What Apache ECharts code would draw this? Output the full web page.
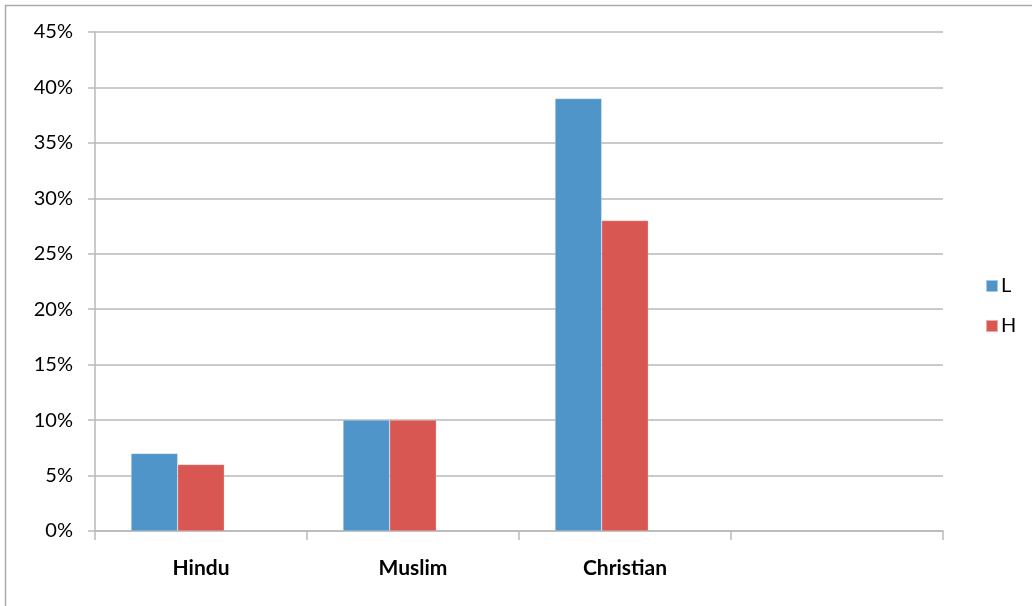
<!DOCTYPE html>
<html>
<head>
<meta charset="utf-8">
<style>
  html, body { margin: 0; padding: 0; background: #fff; }
  #chart { width: 1032px; height: 606px; }
</style>
<script src="https://cdn.jsdelivr.net/npm/echarts@6/dist/echarts.min.js"></script>
</head>
<body>
<div id="chart"></div>
<script>
// Share of each group, by level (percent)
const categories = ['Hindu', 'Muslim', 'Christian', ''];
const seriesL = [7, 10, 39, null];
const seriesH = [6, 10, 28, null];
const seriesBlank = [null, null, null, null];
const yTicks = [0, 5, 10, 15, 20, 25, 30, 35, 40, 45];

const gridColor = '#b9b9b9';
const labelFont = 'Lato, "Liberation Sans", sans-serif';

const chart = echarts.init(document.getElementById('chart'), null, { renderer: 'canvas' });

chart.setOption({
  animation: false,
  backgroundColor: '#ffffff',
  graphic: [{
    type: 'rect',
    shape: { x: 5.5, y: 5.5, width: 1100, height: 700 },
    style: { fill: 'none', stroke: '#aaaaaa', lineWidth: 1.5 },
    silent: true
  }],
  legend: {
    orient: 'vertical',
    left: 980,
    top: 271,
    itemWidth: 12,
    itemHeight: 12,
    itemGap: 20,
    icon: 'rect',
    data: ['L', 'H'],
    textStyle: { fontFamily: labelFont, fontSize: 20, color: '#000', padding: [0, 0, 0, -2] }
  },
  grid: { left: 95, right: 89, top: 32, bottom: 75, containLabel: false },
  xAxis: {
    type: 'category',
    data: categories,
    axisLine: { lineStyle: { color: gridColor, width: 1.5 } },
    axisTick: { show: true, length: 9, alignWithLabel: false, lineStyle: { color: gridColor, width: 1.5 } },
    axisLabel: { margin: 27, fontFamily: labelFont, fontSize: 21, fontWeight: 'bold', color: '#000' },
    splitLine: { show: false }
  },
  yAxis: {
    type: 'value',
    min: 0,
    max: 45,
    interval: 5,
    axisLine: { show: true, lineStyle: { color: gridColor, width: 1.5 } },
    axisTick: { show: true, length: 7, lineStyle: { color: gridColor, width: 1.5 } },
    axisLabel: {
      margin: 22,
      fontFamily: labelFont,
      fontSize: 20,
      color: '#000',
      formatter: v => (yTicks.includes(v) ? v + '%' : '')
    },
    splitLine: { show: true, lineStyle: { color: gridColor, width: 1.5 } }
  },
  series: [
    {
      name: 'L', type: 'bar', data: seriesL,
      barGap: '0%', barCategoryGap: '34%',
      itemStyle: { color: '#4f95c9', borderColor: 'rgba(255,255,255,0.5)', borderWidth: 0.5 }
    },
    {
      name: 'H', type: 'bar', data: seriesH,
      barGap: '0%', barCategoryGap: '34%',
      itemStyle: { color: '#d95753', borderColor: 'rgba(255,255,255,0.5)', borderWidth: 0.5 }
    },
    {
      name: 'blank', type: 'bar', data: seriesBlank,
      barGap: '0%', barCategoryGap: '34%',
      itemStyle: { color: '#9bbb59' }
    }
  ]
});
</script>
</body>
</html>
